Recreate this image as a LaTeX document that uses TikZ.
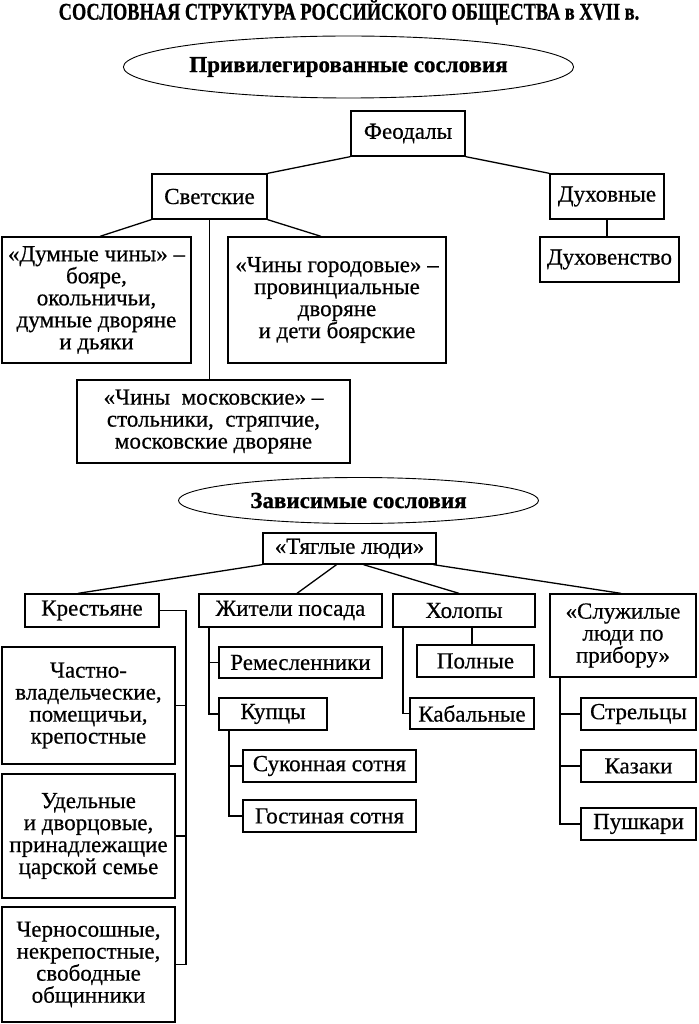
\documentclass[tikz,border=0pt]{standalone}
\usepackage{fontspec}
\setmainfont{Liberation Serif}
\newfontfamily\boxfont{Liberation Serif}[FakeBold=0.5]
\usetikzlibrary{shapes.geometric}
\newcommand\bx[6]{\node[box, minimum width={#4-#2}, minimum height={#5-#3}] (#1) at ({(#2+#4)/2},{(#3+#5)/2}) {#6};}
\begin{document}
\begin{tikzpicture}[x=1pt,y=-1pt,
  box/.style={draw, line width=1.3pt, inner sep=0pt, align=center, font=\boxfont\fontsize{23}{22}\selectfont},
  conn/.style={line width=1.3pt},
  oval/.style={draw, ellipse, line width=0.9pt, inner sep=0pt, font=\bfseries\fontsize{23}{23}\selectfont\addfontfeature{FakeBold=0.8}},
  titletext/.style={inner sep=0pt, font=\bfseries\fontsize{24}{24}\selectfont\addfontfeature{FakeBold=0.8}}]
\useasboundingbox (0,0) rectangle (698,1024);
\node[titletext] (title) at (349,12) {\scalebox{0.765}[1]{СОСЛОВНАЯ СТРУКТУРА РОССИЙСКОГО ОБЩЕСТВА в XVII в.}};
\node[oval, minimum width=402, minimum height=62] (priv) at (348.5,67) {\raisebox{-3pt}{Привилегированные сословия}};
\bx{feod}{351}{111}{465}{156}{Феодалы}
\bx{svet}{152}{174}{267}{219}{Светские}
\bx{dukh}{550}{174}{664}{219}{Духовные}
\bx{dukhov}{540}{237}{679}{282}{Духовенство}
\bx{dumn}{2}{237}{191}{363}{«Думные чины» –\\бояре,\\окольничьи,\\думные дворяне\\и дьяки}
\bx{gorod}{228}{237}{446}{363}{«Чины городовые» –\\провинциальные\\дворяне\\и дети боярские}
\bx{mosk}{77}{380}{350}{463}{«Чины\ \ московские» –\\стольники,\ \ стряпчие,\\московские дворяне}
\node[oval, minimum width=360, minimum height=46] (zav) at (358.5,500.5) {Зависимые сословия};
\bx{tyag}{263}{533}{436}{564}{«Тяглые люди»}
\bx{kres}{25}{594}{159}{627}{Крестьяне}
\bx{zhit}{199}{594}{382}{627}{Жители посада}
\bx{khol}{393}{594}{535}{627}{Холопы}
\bx{sluzh}{550}{594}{696}{677}{«Служилые\\люди по\\прибору»}
\bx{chast}{2}{647}{175}{764}{Частно-\\владельческие,\\помещичьи,\\крепостные}
\bx{udel}{2}{774}{175}{898}{Удельные\\и дворцовые,\\принадлежащие\\царской семье}
\bx{chern}{2}{907}{175}{1022}{Черносошные,\\некрепостные,\\свободные\\общинники}
\bx{rem}{219}{647}{382}{678}{Ремесленники}
\bx{kup}{219}{698}{327}{730}{Купцы}
\bx{sukon}{243}{750}{416}{782}{Суконная сотня}
\bx{gost}{243}{800}{416}{832}{Гостиная сотня}
\bx{poln}{417}{645}{534}{677}{Полные}
\bx{kab}{410}{698}{534}{729}{Кабальные}
\bx{strel}{581}{698}{696}{730}{Стрельцы}
\bx{kaz}{581}{750}{696}{782}{Казаки}
\bx{push}{581}{808}{696}{840}{Пушкари}
% upper connectors
\draw[conn] (feod.south west) -- (svet.north east);
\draw[conn] (feod.south east) -- (dukh.north west);
\draw[conn] (svet.south west) -- ([xshift=3.5pt]dumn.north);
\draw[conn] (svet.south east) -- ([xshift=-16pt]gorod.north);
\draw[conn] (svet.south) -- (svet.south |- mosk.north);
\draw[conn] (dukh.south) -- (dukh.south |- dukhov.north);
% lower connectors
\draw[conn] (tyag.south west) -- ([xshift=-14pt]kres.north);
\draw[conn] ([xshift=-13pt]tyag.south) -- ([xshift=6.5pt]zhit.north);
\draw[conn] ([xshift=14pt]tyag.south) -- ([xshift=-5pt]khol.north);
\draw[conn] ([xshift=84pt]tyag.south) -- ([xshift=-2pt]sluzh.north);
\coordinate (kv) at (186,0);
\draw[conn] (kres.east) -| (kv |- chern.east) -- (chern.east);
\draw[conn] (kv |- chast.east) -- (chast.east);
\draw[conn] (kv |- udel.east) -- (udel.east);
\coordinate (zv) at (209,0);
\draw[conn] (zv |- zhit.south) |- (kup.west);
\draw[conn] (zv |- rem.west) -- (rem.west);
\coordinate (kuv) at (229,0);
\draw[conn] (kuv |- kup.south) |- (gost.west);
\draw[conn] (kuv |- sukon.west) -- (sukon.west);
\coordinate (hv) at (403,0);
\draw[conn] (hv |- khol.south) |- (kab.west);
\coordinate (pv) at (472,0);
\draw[conn] (pv |- poln.north) -- (pv |- khol.south);
\coordinate (sv) at (560,0);
\draw[conn] (sv |- sluzh.south) |- (push.west);
\draw[conn] (sv |- strel.west) -- (strel.west);
\draw[conn] (sv |- kaz.west) -- (kaz.west);
\end{tikzpicture}
\end{document}
